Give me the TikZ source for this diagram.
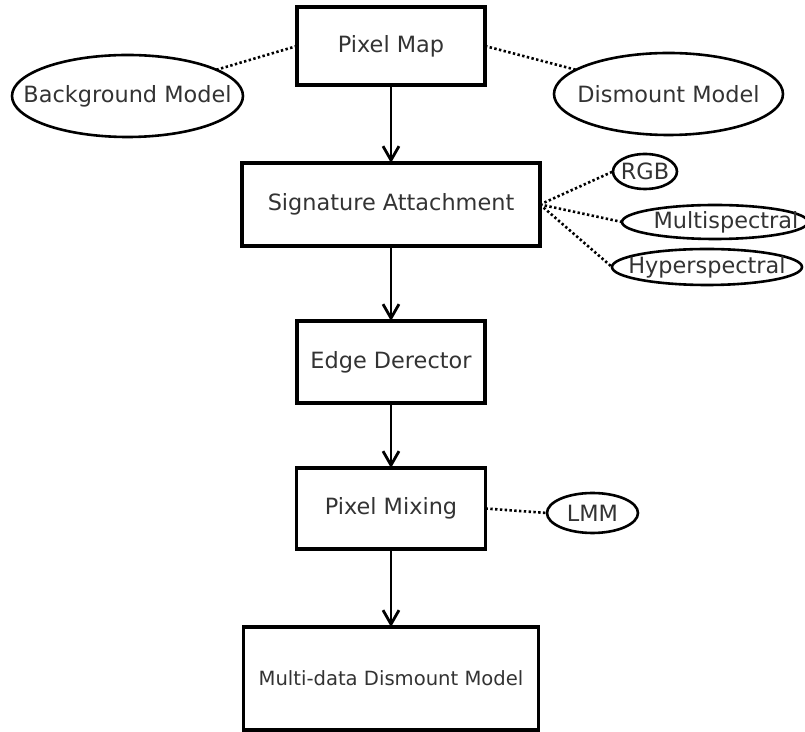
\documentclass[tikz,border=0pt]{standalone}
\usepackage{fontspec}
\setmainfont{DejaVu Sans}
\usetikzlibrary{positioning,shapes.geometric,arrows.meta}

\begin{document}
\begin{tikzpicture}[x=0.5pt, y=-0.5pt,
  every node/.style = {font=\fontsize{11.2}{13.4}\selectfont, text=black!80, outer sep=0pt},
  block/.style = {draw, line width=1.8pt},
  oval/.style = {draw, ellipse, line width=1.3pt, inner sep=0pt},
  link/.style = {line width=1.3pt, dash pattern=on 1.2pt off 1.2pt},
  flow/.style = {line width=1.4pt, -{Straight Barb[length=7pt,width=8pt,line width=1.4pt]}}]
\useasboundingbox (0,0) rectangle (805,732);

% main column
\node[block, minimum width=94pt, minimum height=39pt] (pmap) at (391,46) {Pixel Map};
\node[block, minimum width=149pt, minimum height=41.5pt] (sig) [below=39pt of pmap] {Signature Attachment};
\node[block, minimum width=94pt, minimum height=41pt] (edge) [below=37.5pt of sig] {Edge Derector};
\node[block, minimum width=94.5pt, minimum height=40.5pt] (mix) [below=32.5pt of edge] {Pixel Mixing};
\node[block, minimum width=147.5pt, minimum height=51.5pt, font=\fontsize{9.8}{12}\selectfont] (mdm) [below=39pt of mix] {Multi-data Dismount Model};

% side models
\node[oval, minimum width=115.5pt, minimum height=41pt] (bg) at (127.5,96) {\makebox[0pt]{Background Model}};
\node[oval, minimum width=114.5pt, minimum height=41pt] (dm) at (668.5,94) {\makebox[0pt]{Dismount Model}};
\node[oval, minimum width=32pt, minimum height=17.5pt] (rgb) at (645,171.5) {\makebox[0pt]{RGB}};
\node[oval, minimum width=93pt, minimum height=17pt] (msp) at (715,222) {\makebox[0pt]{\hspace{11pt}Multispectral}};
\node[oval, minimum width=95pt, minimum height=18pt] (hsp) at (707,267) {\makebox[0pt]{Hyperspectral}};
\node[oval, minimum width=45.5pt, minimum height=20pt] (lmm) at (592.5,513) {\makebox[0pt]{LMM}};

\draw[link] (pmap.west) -- (bg);
\draw[link] (pmap.east) -- (dm);
\draw[link] (sig.east) -- (rgb.west);
\draw[link] (sig.east) -- (msp.west);
\draw[link] (sig.east) -- (hsp.west);
\draw[link] (mix.east) -- (lmm.west);

\draw[flow] (pmap) -- (sig);
\draw[flow] (sig) -- (edge);
\draw[flow] (edge) -- (mix);
\draw[flow] (mix) -- (mdm);
\end{tikzpicture}
\end{document}
